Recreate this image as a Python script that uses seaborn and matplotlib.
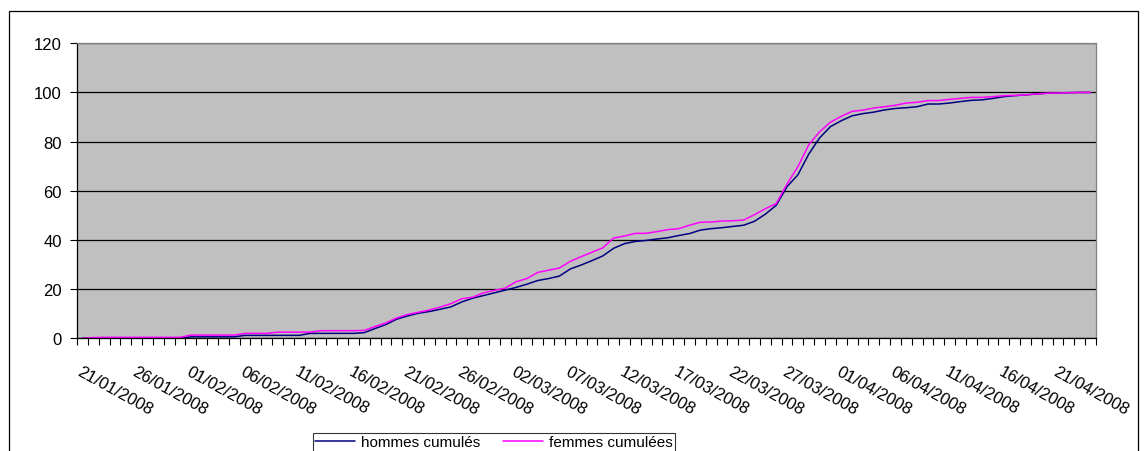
import numpy as np
import pandas as pd
import matplotlib
matplotlib.use("Agg")
import matplotlib.pyplot as plt
import matplotlib.patches as mpatches
import seaborn as sns

# tick labels shown on the category axis (one every 5 categories)
tick_labels = ["21/01/2008", "26/01/2008", "01/02/2008", "06/02/2008", "11/02/2008",
               "16/02/2008", "21/02/2008", "26/02/2008", "02/03/2008", "07/03/2008",
               "12/03/2008", "17/03/2008", "22/03/2008", "27/03/2008", "01/04/2008",
               "06/04/2008", "11/04/2008", "16/04/2008", "21/04/2008"]

# cumulative percentages, one value per category (94 categories)
hommes = [0, 0, 0, 0, 0, 0, 0, 0, 0, 0,
          0.6, 0.6, 0.6, 0.6, 0.6, 1.2, 1.2, 1.2, 1.2, 1.2,
          1.2, 2.0, 2.0, 2.0, 2.0, 2.0, 2.3, 4.0, 5.6, 7.8,
          9.1, 10.2, 10.9, 11.8, 12.8, 14.8, 16.3, 17.4, 18.5, 19.6,
          20.7, 22.0, 23.5, 24.3, 25.3, 28.2, 29.8, 31.6, 33.5, 36.6,
          38.5, 39.4, 39.8, 40.4, 40.9, 41.8, 42.6, 44.0, 44.6, 45.0,
          45.5, 46.0, 47.6, 50.5, 54.1, 61.7, 66.5, 74.9, 81.5, 86.1,
          88.5, 90.5, 91.4, 92.0, 92.9, 93.5, 93.8, 94.2, 95.3, 95.3,
          95.7, 96.3, 96.8, 97.0, 97.6, 98.3, 98.7, 99.0, 99.4, 99.7,
          99.8, 99.9, 100, 100]

femmes = [0, 0.3, 0.4, 0.4, 0.4, 0.4, 0.4, 0.4, 0.4, 0.4,
          1.3, 1.3, 1.3, 1.3, 1.3, 2.0, 2.0, 2.0, 2.5, 2.5,
          2.5, 2.5, 3.1, 3.1, 3.1, 3.1, 3.2, 4.8, 6.3, 8.3,
          9.7, 10.6, 11.5, 12.7, 14.1, 16.1, 16.7, 18.5, 19.5, 20.4,
          23.0, 24.3, 26.8, 27.7, 28.6, 31.3, 33.2, 35.0, 36.8, 40.8,
          41.6, 42.7, 42.7, 43.4, 44.2, 44.6, 46.0, 47.2, 47.3, 47.7,
          47.8, 48.1, 50.3, 52.7, 54.8, 62.8, 69.8, 78.7, 84.0, 87.9,
          90.3, 92.3, 92.8, 93.7, 94.2, 94.8, 95.7, 96.0, 96.7, 96.7,
          97.2, 97.6, 98.0, 98.0, 98.3, 98.7, 98.8, 99.0, 99.4, 99.7,
          99.8, 99.9, 100, 100]

series_names = ["hommes cumulés", "femmes cumulées"]
colors = ["#000080", "#FF00FF"]

n = len(hommes)
df = pd.DataFrame({
    "cat": list(range(n)) * 2,
    "val": hommes + femmes,
    "serie": [series_names[0]] * n + [series_names[1]] * n,
})

sns.set_theme(style="white")
plt.rcParams["font.family"] = ["Liberation Sans", "DejaVu Sans"]
plt.rcParams["text.color"] = "black"
plt.rcParams["xtick.color"] = "black"
plt.rcParams["ytick.color"] = "black"

fig = plt.figure(figsize=(11.46, 4.52), dpi=100)
ax = fig.add_axes([77 / 1146, 1 - 339.3 / 452, (1096 - 77) / 1146, (339.3 - 44.3) / 452])
ax.set_facecolor("#C0C0C0")

sns.lineplot(data=df, x="cat", y="val", hue="serie", hue_order=series_names,
             palette=colors, linewidth=1.1, ax=ax, legend=True)
handles, labels = ax.get_legend_handles_labels()
ax.get_legend().remove()

ax.set_xlim(-0.5, n - 0.5)
ax.set_ylim(0, 120)
ax.set_yticks(range(0, 121, 20))
ax.yaxis.grid(True, color="black", linewidth=0.9)
ax.set_axisbelow(True)
ax.set_xlabel("")
ax.set_ylabel("")

# category labels every 5 categories, tick marks between categories
ax.set_xticks(range(0, n, 5)[:len(tick_labels)])
ax.set_xticklabels(tick_labels, rotation=-29, ha="left", va="top",
                   rotation_mode="anchor", fontsize=12)
ax.set_xticks(np.arange(-0.5, n, 1), minor=True)
ax.tick_params(axis="x", which="major", length=0, pad=18)
ax.tick_params(axis="x", which="minor", direction="out", length=5, width=0.8, color="black", bottom=True)
ax.tick_params(axis="y", direction="out", length=5, width=0.8, color="black", left=True,
               labelsize=12, pad=6)

for side in ["left", "bottom"]:
    ax.spines[side].set_color("black")
    ax.spines[side].set_linewidth(0.9)
for side in ["top", "right"]:
    ax.spines[side].set_color("#808080")
    ax.spines[side].set_linewidth(0.9)

leg = fig.legend(handles, labels, loc="upper left", bbox_to_anchor=(313 / 1146, 1 - 434 / 452),
                 ncol=2, frameon=True, fancybox=False, edgecolor="black", fontsize=11,
                 handlelength=2.6, columnspacing=1.5, borderpad=0.15, handletextpad=0.4,
                 borderaxespad=0)
leg.get_frame().set_linewidth(0.8)

# chart area border
fig.patches.append(mpatches.Rectangle((9 / 1146, -0.1), (1138 - 9) / 1146, 1 - 12 / 452 + 0.1,
                                      transform=fig.transFigure, fill=False,
                                      edgecolor="black", linewidth=0.9))

fig.savefig("out.png", dpi=100, facecolor="white")
